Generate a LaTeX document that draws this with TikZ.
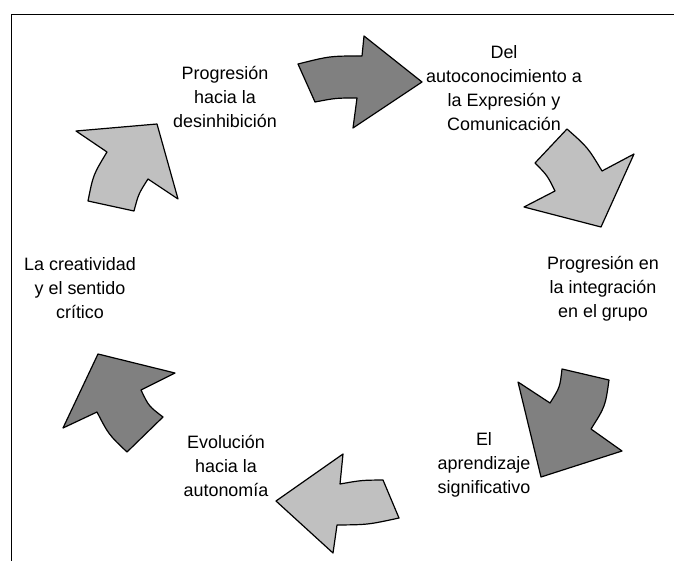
\documentclass[tikz,border=0pt]{standalone}
\usepackage{fontspec}
\setmainfont{Liberation Sans}
\usepackage{xcolor}
\usetikzlibrary{positioning}
\definecolor{arrdark}{RGB}{128,128,128}
\definecolor{arrlight}{RGB}{192,192,192}

\begin{document}
\begin{tikzpicture}[x=1bp,y=-1bp,
                    txt/.style={align=center,
                        font=\fontsize{18}{24}\selectfont,
                        inner sep=0pt},
                    dark/.style={fill=arrdark,
                        draw=black,
                        line width=1.2bp,
                        line join=round},
                    light/.style={dark,
                        fill=arrlight}]
    \useasboundingbox (0,0) rectangle (674,561);
    \draw[line width=1.6bp] (11.5,561) -- (11.5,14.5) -- (674,14.5);
    % labels round the cycle
    \node[txt] (desinh) at (225,97) {Progresión\\hacia la\\desinhibición};
    \node[txt] (autocon) at (504,88) {Del\\autoconocimiento a\\la Expresión y\\Comunicación};
    \node[txt] (grupo) at (603,289) {Progresión en\\la integración\\en el grupo};
    \node[txt] (aprend) at (484,465) {El\\aprendizaje\\significativo};
    \node[txt] (auton) at (226,466) {Evolución\\hacia la\\autonomía};
    \node[txt] (creat) at (80,288) {La creatividad\\y el sentido\\crítico};
    % arrows
    \draw[dark] (298,64) .. controls (330,56) .. (362,56) -- (364,36) -- (422,82)
        -- (353,128) -- (357,98) .. controls (336,98) .. (315,102) -- cycle;
    \draw[light] (535,163) -- (567,129) .. controls (587.7,147.3) .. (602,171)
        -- (634,154) -- (601,227) -- (524,207) -- (555,191)
        .. controls (547.3,175.4) .. cycle;
    \draw[dark] (562,369) -- (609,380) .. controls (605.3,406.4) .. (591,429)
        -- (622,451) -- (541,477) -- (518,382) -- (550,403)
        .. controls (559.9,387.4) .. cycle;
    \draw[light] (383,480) -- (399,518) .. controls (368,524.7) .. (337,525)
        -- (333,553) -- (276,501) -- (343,454) -- (340,484)
        .. controls (361.5,480.2) .. cycle;
    \draw[dark] (98,354) -- (175,373) -- (141,390) .. controls (148.7,406.1) .. (163,417)
        -- (127,452) .. controls (108.6,434.5) .. (97,412) -- (63,428) -- cycle;
    \draw[light] (76,131) -- (157,124) -- (178,199) -- (148,179)
        .. controls (138.5,193.9) .. (134,211) -- (88,201)
        .. controls (93.2,174.8) .. (107,152) -- cycle;
\end{tikzpicture}
\end{document}
